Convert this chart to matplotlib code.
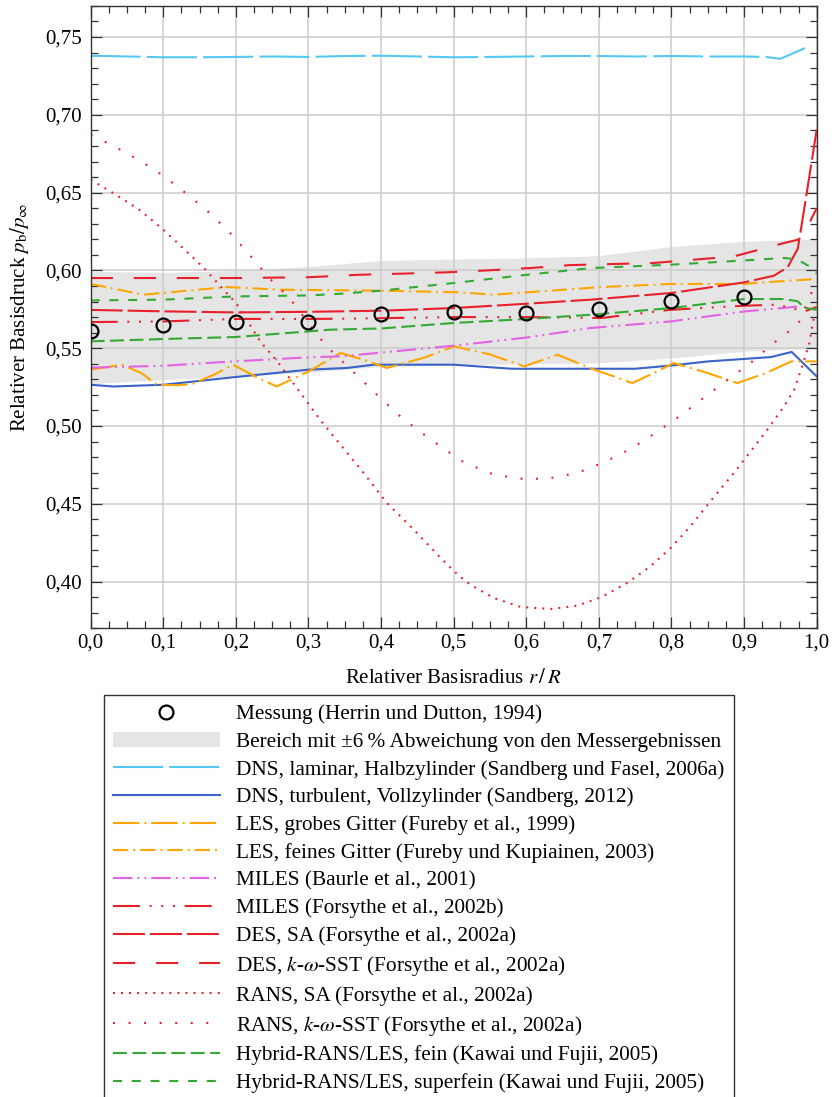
import numpy as np
import matplotlib
matplotlib.use('Agg')
import matplotlib.pyplot as plt
from matplotlib.patches import Patch
from matplotlib.ticker import MultipleLocator, FuncFormatter

plt.rcParams['font.family'] = ['Liberation Serif', 'DejaVu Serif']
plt.rcParams['mathtext.fontset'] = 'stix'
plt.rcParams['font.size'] = 15
plt.rcParams['lines.scale_dashes'] = False

# Messung (Herrin und Dutton, 1994)
x_mess = [0.0, 0.1, 0.2, 0.3, 0.4, 0.5, 0.6, 0.7, 0.8, 0.9]
p_mess = [0.561, 0.5647, 0.5666, 0.5666, 0.572, 0.5735, 0.5726, 0.5755, 0.5805, 0.5829]

# +-6 % band
band_x = [0.0, 0.1, 0.2, 0.3, 0.4, 0.5, 0.6, 0.7, 0.8, 0.9, 1.0]
band_hi = [0.5994, 0.5987, 0.600, 0.6025, 0.6064, 0.6073, 0.608, 0.6095, 0.6154, 0.6186, 0.6202]
band_lo = [0.5272, 0.5298, 0.5319, 0.5345, 0.5383, 0.5394, 0.540, 0.5405, 0.5437, 0.548, 0.550]

# DNS laminar
x_dnsl = [0, .05, .1, .15, .2, .25, .3, .35, .4, .45, .5, .55, .6, .65, .7, .75, .8, .85, .9, .93, .95, .984]
p_dnsl = [.738, .7375, .737, .737, .7372, .7375, .7372, .7378, .738, .7375, .737, .7372, .7375, .7378,
          .7378, .7375, .7378, .7375, .7375, .7372, .736, .7429]

# DNS turbulent
x_dnst = [0, .031, .1, .2, .3, .353, .39, .5, .58, .6, .7, .75, .8, .85, .9, .937, .9655, 1.0]
p_dnst = [.5265, .5254, .5265, .5315, .5362, .5373, .5394, .5394, .5368, .5368, .5368, .5368, .5389,
          .5415, .5431, .5443, .5476, .5319]

# LES grobes Gitter
x_lesg = [0, .043, .07, .091, .12, .14, .17, .196, .226, .256, .3, .344, .38, .408, .46, .5, .55, .597,
          .643, .689, .72, .746, .78, .803, .85, .891, .93, .965, 1.0]
p_lesg = [.5362, .5394, .534, .5265, .5262, .527, .533, .5394, .532, .5254, .535, .547, .542, .5373, .544,
          .5512, .546, .5383, .5458, .537, .532, .5276, .535, .5405, .534, .5276, .534, .5415, .5415]

# LES feines Gitter
x_lesf = [0, .0726, .1876, .261, .399, .509, .555, .703, .799, .9, .93, 1.0]
p_lesf = [.5913, .5844, .5893, .5876, .587, .5859, .5844, .5893, .5913, .5913, .5924, .5945]

# MILES (Baurle)
x_milb = [0, .1, .196, .307, .344, .5, .601, .689, .799, .9, .978]
p_milb = [.5375, .5387, .5415, .5443, .5447, .5516, .5569, .563, .5672, .5736, .5769]

# MILES (Forsythe)
x_milf = [0, .1, .2, .3, .353, .505, .601, .703, .799, .9, .946, .983, 1.0]
p_milf = [.5668, .5672, .5688, .5688, .569, .570, .570, .5694, .5747, .5773, .578, .5736, .5765]

# DES SA
x_dessa = [0, .1, .2, .3, .4, .5, .601, .689, .8, .9, .941, .96, .974, .978, .987, 1.0]
p_dessa = [.5746, .5737, .573, .5734, .5741, .5758, .5786, .5812, .5855, .5923, .5966, .6020, .6140,
           .6255, .6519, .6904]

# DES k-omega-SST
x_deskw = [0, .1, .2, .3, .369, .427, .486, .546, .604, .66, .776, .886, .955, .974, .9876, 1.0]
p_deskw = [.5951, .5951, .5951, .5956, .5972, .5979, .5987, .600, .6015, .6034, .6048, .609, .6176,
           .6197, .6283, .640]

# RANS SA
x_ranssa = [0, .03, .067, .1, .132, .156, .178, .201, .2335, .2587, .284, .316, .344, .376, .408, .445,
            .482, .507, .523, .555, .592, .634, .67, .703, .739, .771, .799, .826, .859, .886, .909,
            .932, .955, .969, .98, .99, .997]
p_ranssa = [.6583, .650, .639, .6262, .6122, .6016, .5902, .5786, .5544, .5405, .5244, .504, .488, .4698,
            .4505, .4334, .4152, .4038, .398, .3895, .3837, .3824, .3845, .3899, .3991, .4098, .4216,
            .4355, .4547, .4698, .4837, .4976, .5126, .5233, .5383, .5533, .5726]

# RANS k-omega-SST
x_ranskw = [0, .012, .03, .066, .1, .132, .164, .193, .22, .2335, .247, .2726, .312, .325, .369, .399,
            .429, .461, .495, .512, .548, .588, .629, .67, .707, .744, .778, .812, .844, .876, .909,
            .9407, .974, .997]
p_ranskw = [.687, .6844, .6803, .6711, .6609, .6493, .6369, .6236, .6094, .6019, .5945, .583, .5587,
            .5512, .5315, .518, .5051, .4938, .4826, .4773, .4698, .4661, .4661, .4698, .4766, .4854,
            .4955, .5066, .518, .5293, .5405, .5533, .5651, .590]

# Hybrid RANS/LES fein
x_hybf = [0, .1, .2, .3, .33, .4, .5, .601, .689, .8, .9, .955, .974, .983, 1.0]
p_hybf = [.5544, .5559, .5572, .5608, .5619, .5627, .5662, .5688, .5715, .5758, .5816, .5816, .5801,
          .5760, .5747]

# Hybrid RANS/LES superfein
x_hybs = [0, .1, .2, .3, .344, .4, .5, .601, .689, .8, .9, .955, .974, .99, 1.0]
p_hybs = [.5807, .5812, .5833, .5839, .585, .587, .5919, .5972, .6015, .6037, .6064, .608, .6069,
          .6026, .598]

c_lblue = '#55c8f2'
c_blue = '#3a62c8'
c_orange = '#ffa500'
c_violet = '#e463e4'
c_red = '#e8202a'
c_green = '#33aa33'

fig = plt.figure(figsize=(8.39, 10.97), dpi=100)
ax = fig.add_axes([0.1081, 0.4273, 0.8653, 0.5673])

lw = 1.5
ax.fill_between(band_x, band_lo, band_hi, color='#e5e5e5', lw=0, zorder=0.3)
l_dnsl, = ax.plot(x_dnsl, p_dnsl, color=c_lblue, lw=lw, ls=(0, (36, 4.5)))
l_dnst, = ax.plot(x_dnst, p_dnst, color=c_blue, lw=lw, ls='-')
l_lesg, = ax.plot(x_lesg, p_lesg, color=c_orange, lw=lw, ls=(0, (19, 3.6, 1.4, 3.6)))
l_lesf, = ax.plot(x_lesf, p_lesf, color=c_orange, lw=lw, ls=(0, (11, 3.6, 1.4, 3.6)))
l_milb, = ax.plot(x_milb, p_milb, color=c_violet, lw=lw, ls=(0, (14, 3.6, 1.4, 3.6, 1.4, 3.6)))
l_milf, = ax.plot(x_milf, p_milf, color=c_red, lw=lw, ls=(0, (19.4, 7, 1.4, 7, 1.4, 7, 1.4, 7)))
l_dessa, = ax.plot(x_dessa, p_dessa, color=c_red, lw=lw, ls=(0, (23, 3.6)))
l_deskw, = ax.plot(x_deskw, p_deskw, color=c_red, lw=lw, ls=(0, (16, 15)))
l_ranssa, = ax.plot(x_ranssa, p_ranssa, color=c_red, lw=lw, ls=(0, (1.4, 4.4)))
l_ranskw, = ax.plot(x_ranskw, p_ranskw, color=c_red, lw=lw, ls=(0, (1.4, 9.8)))
l_hybf, = ax.plot(x_hybf, p_hybf, color=c_green, lw=lw, ls=(0, (10, 4)))
l_hybs, = ax.plot(x_hybs, p_hybs, color=c_green, lw=lw, ls=(0, (6.5, 7)))
l_mess, = ax.plot(x_mess, p_mess, ls='none', marker='o', ms=10, mfc='none', mec='black', mew=1.6,
                  zorder=5)

ax.set_xlim(0, 1)
ax.set_ylim(0.37, 0.77)
ax.xaxis.set_major_locator(MultipleLocator(0.1))
ax.xaxis.set_minor_locator(MultipleLocator(0.025))
ax.yaxis.set_major_locator(MultipleLocator(0.05))
ax.yaxis.set_minor_locator(MultipleLocator(0.01))
ax.xaxis.set_major_formatter(FuncFormatter(lambda v, p: ('%.1f' % v).replace('.', ',')))
ax.yaxis.set_major_formatter(FuncFormatter(lambda v, p: ('%.2f' % v).replace('.', ',')))
ax.tick_params(which='both', direction='in', top=True, right=True, colors='#333333',
               labelcolor='black')
ax.tick_params(which='major', length=8, width=0.9)
ax.tick_params(which='minor', length=5, width=0.9)
ax.tick_params(axis='y', which='major', pad=6.5)
ax.set_axisbelow(True)
ax.grid(True, which='major', color='#cccccc', lw=1.1)
for s in ax.spines.values():
    s.set_color('#333333')
    s.set_linewidth(1.0)

ax.set_xlabel(r'Relativer Basisradius $r\,/\,R$', labelpad=12)
ax.set_ylabel(r'Relativer Basisdruck $p_\mathrm{b}/p_\infty$', labelpad=10)

handles = [l_mess, Patch(facecolor='#e5e5e5', edgecolor='none'), l_dnsl, l_dnst, l_lesg, l_lesf,
           l_milb, l_milf, l_dessa, l_deskw, l_ranssa, l_ranskw, l_hybf, l_hybs]
labels = ['Messung (Herrin und Dutton, 1994)',
          'Bereich mit \u00b16\u2009% Abweichung von den Messergebnissen',
          'DNS, laminar, Halbzylinder (Sandberg und Fasel, 2006a)',
          'DNS, turbulent, Vollzylinder (Sandberg, 2012)',
          'LES, grobes Gitter (Fureby et al., 1999)',
          'LES, feines Gitter (Fureby und Kupiainen, 2003)',
          'MILES (Baurle et al., 2001)',
          'MILES (Forsythe et al., 2002b)',
          'DES, SA (Forsythe et al., 2002a)',
          r'DES, $k$-$\omega$-SST (Forsythe et al., 2002a)',
          'RANS, SA (Forsythe et al., 2002a)',
          r'RANS, $k$-$\omega$-SST (Forsythe et al., 2002a)',
          'Hybrid-RANS/LES, fein (Kawai und Fujii, 2005)',
          'Hybrid-RANS/LES, superfein (Kawai und Fujii, 2005)']
leg = fig.legend(handles, labels, loc='upper left', bbox_to_anchor=(103.7 / 839, 1 - 694.7 / 1097),
                 borderaxespad=0, frameon=True, fancybox=False, framealpha=1, edgecolor='#333333',
                 handlelength=5.0, handletextpad=0.78, borderpad=0.45, labelspacing=0.37,
                 numpoints=1, fontsize=15.3)
leg.get_frame().set_linewidth(1.0)

fig.savefig('out.png', dpi=100)
